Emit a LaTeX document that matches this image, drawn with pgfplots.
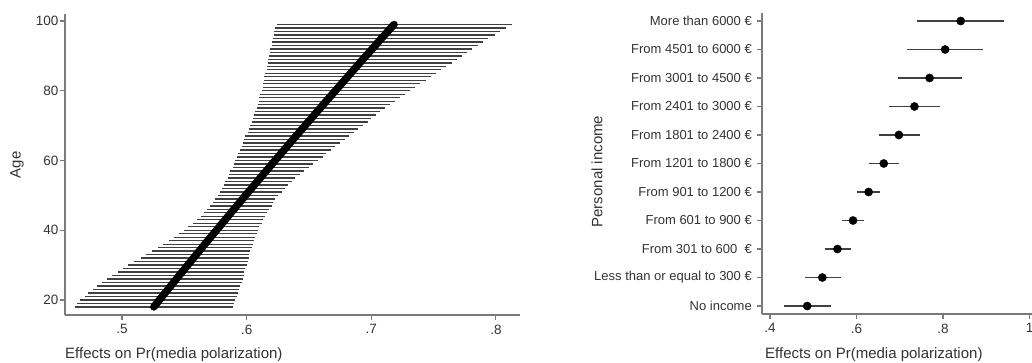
\documentclass[border=0pt]{standalone}
\usepackage{pgfplots}
\pgfplotsset{compat=1.18}
\usepackage{pgfplotstable}
\usepackage{fontspec}
\setmainfont{Liberation Sans}
\definecolor{axgray}{HTML}{7A7A7A}
\definecolor{txt}{HTML}{333333}
\definecolor{barcol}{HTML}{404040}

\pgfplotstableread{
age lo hi est
18 0.462 0.589 0.5255
19 0.464 0.590 0.5278
20 0.466 0.591 0.5300
21 0.470 0.592 0.5323
22 0.473 0.593 0.5345
23 0.477 0.594 0.5368
24 0.480 0.595 0.5391
25 0.484 0.596 0.5413
26 0.488 0.597 0.5436
27 0.492 0.598 0.5459
28 0.497 0.598 0.5482
29 0.501 0.599 0.5504
30 0.505 0.600 0.5527
31 0.510 0.601 0.5550
32 0.515 0.602 0.5573
33 0.519 0.602 0.5596
34 0.524 0.603 0.5619
35 0.529 0.604 0.5642
36 0.533 0.605 0.5665
37 0.538 0.606 0.5688
38 0.542 0.607 0.5711
39 0.546 0.608 0.5735
40 0.550 0.609 0.5758
41 0.553 0.610 0.5781
42 0.557 0.612 0.5804
43 0.560 0.613 0.5828
44 0.563 0.615 0.5851
45 0.566 0.616 0.5874
46 0.568 0.618 0.5898
47 0.571 0.620 0.5921
48 0.573 0.621 0.5944
49 0.575 0.623 0.5968
50 0.577 0.625 0.5991
51 0.579 0.628 0.6015
52 0.580 0.631 0.6039
53 0.582 0.633 0.6062
54 0.583 0.636 0.6086
55 0.585 0.639 0.6109
56 0.586 0.643 0.6133
57 0.587 0.646 0.6157
58 0.589 0.650 0.6181
59 0.590 0.653 0.6204
60 0.591 0.657 0.6228
61 0.592 0.661 0.6252
62 0.593 0.664 0.6276
63 0.595 0.668 0.6300
64 0.596 0.671 0.6324
65 0.597 0.675 0.6348
66 0.598 0.679 0.6372
67 0.599 0.682 0.6396
68 0.601 0.686 0.6420
69 0.602 0.689 0.6444
70 0.603 0.693 0.6468
71 0.604 0.697 0.6492
72 0.605 0.700 0.6517
73 0.606 0.704 0.6541
74 0.607 0.707 0.6565
75 0.608 0.711 0.6590
76 0.609 0.715 0.6614
77 0.610 0.719 0.6638
78 0.610 0.723 0.6663
79 0.611 0.727 0.6687
80 0.612 0.731 0.6712
81 0.613 0.735 0.6736
82 0.613 0.739 0.6761
83 0.614 0.744 0.6785
84 0.614 0.748 0.6810
85 0.615 0.752 0.6834
86 0.616 0.756 0.6859
87 0.616 0.760 0.6884
88 0.617 0.765 0.6908
89 0.617 0.769 0.6933
90 0.618 0.773 0.6958
91 0.619 0.777 0.6983
92 0.619 0.781 0.7008
93 0.620 0.786 0.7033
94 0.620 0.790 0.7057
95 0.621 0.794 0.7082
96 0.622 0.799 0.7107
97 0.622 0.803 0.7132
98 0.623 0.808 0.7157
99 0.624 0.8125 0.7183
}\agedata

\pgfplotstableread{
idx est lo hi
0 0.486 0.432 0.540
1 0.521 0.480 0.563
2 0.556 0.526 0.588
3 0.592 0.567 0.617
4 0.628 0.601 0.655
5 0.663 0.628 0.699
6 0.698 0.651 0.746
7 0.734 0.674 0.793
8 0.769 0.697 0.843
9 0.805 0.717 0.892
10 0.841 0.739 0.942
}\incdata

\begin{document}
\begin{tikzpicture}
\useasboundingbox (0,0) rectangle (1032bp,363bp);
\pgfplotsset{
  stata/.style={
    scale only axis,
    axis x line*=bottom, axis y line*=left,
    axis line style={-, draw=axgray, line width=1.1bp},
    tick align=outside, major tick length=5bp,
    tick style={draw=axgray, line width=1.1bp},
    minor tick num=0,
    ticklabel style={font=\fontsize{13.5bp}{15bp}\selectfont, text=txt},
    /pgf/number format/assume math mode=true,
    clip=false,
  }
}
% Left panel
\begin{axis}[stata,
  at={(65bp,48bp)}, anchor=south west,
  width=455bp, height=301bp,
  xmin=0.4543, xmax=0.8193, ymin=15.7, ymax=102,
  xtick={0.5,0.6,0.7,0.8}, xticklabels={.5,.6,.7,.8},
  ytick={20,40,60,80,100},
  y tick label style={inner sep=1.5bp},
  x tick label style={inner sep=4.5bp},
]
\addplot[draw=barcol, line width=1.35bp, quiver={u=\thisrow{hi}-\thisrow{lo}, v=0}] table[x=lo, y=age] {\agedata};
\addplot[black, line width=7.5bp, line cap=round, line join=round, mark=none] table[x=est, y=age] {\agedata};
\end{axis}
% Right panel
\begin{axis}[stata,
  at={(762bp,49bp)}, anchor=south west,
  width=270bp, height=301bp,
  xmin=0.3815, xmax=1.0058, ymin=-0.28, ymax=10.28,
  xtick={0.4,0.6,0.8,1}, xticklabels={.4,.6,.8,1},
  ytick={0,...,10},
  yticklabels={No income, Less than or equal to 300 €, From 301 to 600~~€, From 601 to 900 €, From 901 to 1200 €, From 1201 to 1800 €, From 1801 to 2400 €, From 2401 to 3000 €, From 3001 to 4500 €, From 4501 to 6000 €, More than 6000 €},
  y tick label style={font=\fontsize{13bp}{15bp}\selectfont, inner sep=5bp},
  x tick label style={inner sep=4.5bp},
]
\addplot[draw=barcol, line width=1.7bp, quiver={u=\thisrow{hi}-\thisrow{lo}, v=0}] table[x=lo, y=idx] {\incdata};
\addplot[only marks, mark=*, mark size=4.1bp, mark options={fill=black, draw=black}] table[x=est, y=idx] {\incdata};
\end{axis}
% Titles
\node[rotate=90, anchor=center, inner sep=0, font=\fontsize{15bp}{18bp}\selectfont, text=txt] at (17bp,198bp) {Age};
\node[rotate=90, anchor=center, inner sep=0, font=\fontsize{15bp}{18bp}\selectfont, text=txt] at (597bp,191.5bp) {Personal income};
\node[anchor=base west, inner sep=0, font=\fontsize{15bp}{18bp}\selectfont, text=txt] at (65bp,5bp) {Effects on Pr(media polarization)};
\node[anchor=base west, inner sep=0, font=\fontsize{15bp}{18bp}\selectfont, text=txt] at (765bp,5bp) {Effects on Pr(media polarization)};
\end{tikzpicture}
\end{document}
